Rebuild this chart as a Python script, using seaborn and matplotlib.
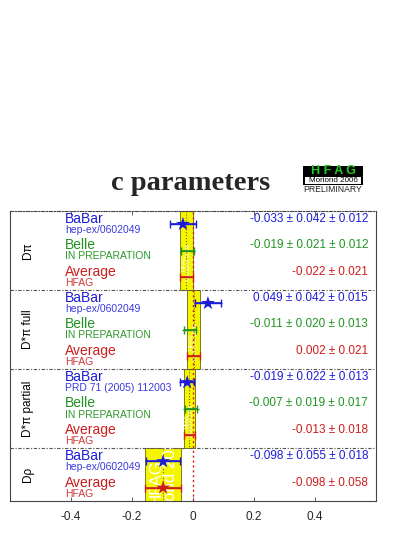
import numpy as np
import pandas as pd
import matplotlib
matplotlib.use("Agg")
import matplotlib.pyplot as plt
import seaborn as sns
from matplotlib.patches import Rectangle

sections = ["Dπ", "D*π full", "D*π partial", "Dρ"]
section_sizes = [3, 3, 3, 2]
experiments = ["BaBar", "Belle", "Average",
               "BaBar", "Belle", "Average",
               "BaBar", "Belle", "Average",
               "BaBar", "Average"]
references = ["hep-ex/0602049", "IN PREPARATION", "HFAG",
              "hep-ex/0602049", "IN PREPARATION", "HFAG",
              "PRD 71 (2005) 112003", "IN PREPARATION", "HFAG",
              "hep-ex/0602049", "HFAG"]
values = [-0.033, -0.019, -0.022,
          0.049, -0.011, 0.002,
          -0.019, -0.007, -0.013,
          -0.098, -0.098]
stat_err = [0.042, 0.021, 0.021,
            0.042, 0.020, 0.021,
            0.022, 0.019, 0.018,
            0.055, 0.058]
syst_err = [0.012, 0.012, np.nan,
            0.015, 0.013, np.nan,
            0.013, 0.017, np.nan,
            0.018, np.nan]
x_ticks = [-0.4, -0.2, 0, 0.2, 0.4]
x_tick_labels = ["-0.4", "-0.2", "0", "0.2", "0.4"]

colours = {"BaBar": "#1c1cd8", "Belle": "#1f941f", "Average": "#cc1c1c"}
ref_colours = {"BaBar": "#3a3ae0", "Belle": "#2a9a2a", "Average": "#d03a3a"}

df = pd.DataFrame({"experiment": experiments, "reference": references,
                   "value": values, "stat": stat_err, "syst": syst_err})
df["section"] = np.repeat(sections, section_sizes)
df["y"] = np.arange(len(df)) + 0.5
df["total"] = np.sqrt(df["stat"] ** 2 + df["syst"].fillna(0) ** 2)

sns.set_style("ticks")
plt.rcParams["font.family"] = ["Liberation Sans", "DejaVu Sans"]

fig = plt.figure(figsize=(4.17, 5.40), dpi=100)
ax = fig.add_axes([10 / 417, 1 - 501 / 540, 366 / 417, 290 / 540])
ax.set_xlim(-0.6, 0.6)
ax.set_ylim(len(df), 0)

# section boundaries
bounds = np.concatenate([[0], np.cumsum(section_sizes)])

# yellow average bands with the HFAG watermark
avg = df[df["experiment"] == "Average"]
for (lo, hi), (_, row) in zip(zip(bounds[:-1], bounds[1:]), avg.iterrows()):
    x0 = row["value"] - row["stat"]
    w = 2 * row["stat"]
    rect = Rectangle((x0, lo), w, hi - lo, facecolor="#f5f500",
                     edgecolor="#6a6a00", lw=0.6, zorder=1)
    ax.add_patch(rect)
    ax.plot([row["value"], row["value"]], [lo, hi], ls=":", color="#6a6a00",
            lw=0.8, zorder=2)
    fs = w * 105
    t = ax.text(x0 + w / 2, (lo + hi) / 2 + 0.15 * (hi - lo), "HFAG\nMoriond 2006",
                rotation=90, color="white", fontsize=fs, ha="center", va="center",
                linespacing=0.9, zorder=2)
    t.set_clip_path(rect)

# zero line
ax.axvline(0, color="#cc2222", ls=(0, (1.5, 2)), lw=1, zorder=2)

# separators
for b in bounds[1:-1]:
    ax.axhline(b, color="#555555", ls=(0, (3, 1.5, 1, 1.5)), lw=0.8, zorder=3)

# error bars
for _, row in df.iterrows():
    c = colours[row["experiment"]]
    ax.errorbar(row["value"], row["y"], xerr=row["total"], fmt="none",
                ecolor=c, elinewidth=1.0, capsize=0, zorder=4)
    ax.errorbar(row["value"], row["y"], xerr=row["stat"], fmt="none",
                ecolor=c, elinewidth=1.2, capsize=3, capthick=1.0, zorder=4)

# star markers
stars = df[(df["experiment"] == "BaBar") | ((df["experiment"] == "Average") & (df["section"] == "Dρ"))]
sns.scatterplot(data=stars, x="value", y="y", hue="experiment", palette=colours,
                marker="*", s=110, edgecolor="none", legend=False, ax=ax, zorder=5)
ax.set_ylim(len(df), 0)

# labels and numbers
for _, row in df.iterrows():
    e = row["experiment"]
    ax.text(-0.42, row["y"] - 0.2, e, color=colours[e], fontsize=10,
            ha="left", va="center")
    ax.text(-0.42, row["y"] + 0.22, row["reference"], color=ref_colours[e], fontsize=7.5,
            ha="left", va="center")
    if np.isnan(row["syst"]):
        s = f"{row['value']:.3f} ± {row['stat']:.3f}"
    else:
        s = f"{row['value']:.3f} ± {row['stat']:.3f} ± {row['syst']:.3f}"
    ax.text(0.574, row["y"] - 0.2, s, color=colours[e], fontsize=8.5,
            ha="right", va="center")

for name, lo, hi in zip(sections, bounds[:-1], bounds[1:]):
    ax.text(-0.541, (lo + hi) / 2, name, rotation=90, fontsize=8.5,
            ha="center", va="center", color="black")

ax.set_yticks([])
ax.set_xticks(x_ticks)
ax.set_xticklabels(x_tick_labels, fontsize=8.5)
ax.tick_params(axis="x", direction="in", top=True, length=3, width=0.6,
               color="#444444", pad=7)
ax.set_xlabel("")
ax.set_ylabel("")
for sp in ax.spines.values():
    sp.set_color("#444444")
    sp.set_linewidth(0.8)
    sp.set_visible(True)
ax.spines["top"].set_linestyle((0, (3, 1.5, 1, 1.5)))

# title
fig.text(191 / 417, 1 - 184 / 540, "c parameters", fontsize=20.5, fontweight="bold",
         family=["Liberation Serif", "DejaVu Serif"], ha="center", va="center")

# HFAG logo
lax = fig.add_axes([303 / 417, 1 - 185 / 540, 60 / 417, 19 / 540])
lax.set_xlim(0, 1)
lax.set_ylim(0, 1)
lax.axis("off")
lax.add_patch(Rectangle((0, 0), 1, 1, facecolor="black", edgecolor="black"))
lax.add_patch(Rectangle((0.04, 0.07), 0.92, 0.36, facecolor="white", edgecolor="none"))
lax.text(0.5, 0.74, "H F A G", color="#22cc22", fontsize=9, fontweight="bold",
         ha="center", va="center")
lax.text(0.5, 0.25, "Moriond 2006", color="black", fontsize=5.8,
         ha="center", va="center")
fig.text(333 / 417, 1 - 189.5 / 540, "PRELIMINARY", fontsize=6.2, ha="center",
         va="center", color="#222222")

fig.savefig("out.png", dpi=100)
